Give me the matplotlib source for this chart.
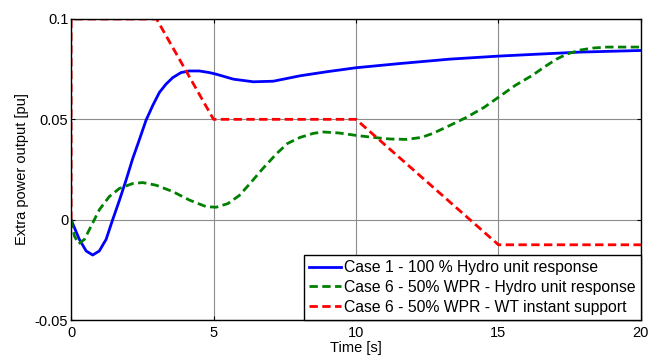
import matplotlib
matplotlib.use("Agg")
import matplotlib.pyplot as plt

plt.rcParams["font.family"] = ["Liberation Sans", "DejaVu Sans"]

# Case 1 - hydro unit response
t_case1 = [0, 0.29, 0.53, 0.76, 0.99, 1.23, 1.46, 1.70, 1.93, 2.16, 2.40,
           2.63, 2.87, 3.10, 3.33, 3.57, 3.86, 4.15, 4.5, 4.85, 5.09, 5.7,
           6.4, 7.1, 8.04, 8.97, 10.0, 11.54, 13.3, 15.0, 17.86, 20.0]
p_case1 = [0, -0.0098, -0.0156, -0.0176, -0.0156, -0.0098, 0, 0.0098,
           0.0197, 0.0303, 0.040, 0.0495, 0.057, 0.0634, 0.0675, 0.0708,
           0.0733, 0.0741, 0.0741, 0.0733, 0.0725, 0.070, 0.0687, 0.069,
           0.0717, 0.0737, 0.0757, 0.0778, 0.080, 0.0815, 0.0835, 0.0843]

# Case 6 - hydro unit response
t_case6 = [0, 0.12, 0.27, 0.47, 0.70, 0.99, 1.34, 1.70, 2.16, 2.51, 2.98,
           3.57, 4.15, 4.74, 5.09, 5.5, 5.9, 6.28, 6.7, 7.22, 7.6, 8.04, 8.5,
           8.85, 9.4, 10.0, 10.6, 11.2, 11.78, 12.3, 12.7, 13.3, 13.88, 14.5,
           15.05, 15.6, 16.2, 16.6, 17.04, 17.4, 17.86, 18.3, 18.8, 20.0]
p_case6 = [0, -0.0082, -0.012, -0.0098, -0.0033, 0.0049, 0.0115, 0.0156,
           0.018, 0.0185, 0.0172, 0.014, 0.0098, 0.0065, 0.0062, 0.008, 0.012,
           0.018, 0.025, 0.033, 0.038, 0.041, 0.043, 0.0437, 0.0432, 0.042,
           0.041, 0.0402, 0.040, 0.041, 0.043, 0.047, 0.051, 0.056, 0.0615,
           0.067, 0.072, 0.076, 0.080, 0.0825, 0.0845, 0.0855, 0.086, 0.086]

# Case 6 - WT instant support
t_wt = [0, 0, 3, 5, 10, 15, 20]
p_wt = [0, 0.1, 0.1, 0.05, 0.05, -0.0125, -0.0125]

fig = plt.figure(figsize=(6.52, 3.58), dpi=100)
ax = fig.add_axes([0.109, 0.106, 0.874, 0.841])

ax.plot(t_case1, p_case1, "-", color="blue", lw=2.0,
        label="Case 1 - 100 % Hydro unit response")
ax.plot(t_case6, p_case6, "--", color="green", lw=2.0, dashes=(3, 1.6),
        label="Case 6 - 50% WPR - Hydro unit response")
ax.plot(t_wt, p_wt, "--", color="red", lw=2.0, dashes=(3, 1.6),
        label="Case 6 - 50% WPR - WT instant support")

ax.set_xlim(0, 20)
ax.set_ylim(-0.05, 0.1)
ax.set_xticks([0, 5, 10, 15, 20])
ax.set_yticks([-0.05, 0, 0.05, 0.1])
ax.set_yticklabels(["-0.05", "0", "0.05", "0.1"])
ax.tick_params(direction="in", top=True, right=True, labelsize=10.5,
               length=3, pad=2)
ax.tick_params(axis="x", pad=4)
ax.grid(True, color="0.55", lw=0.8)
ax.set_axisbelow(True)
for s in ax.spines.values():
    s.set_linewidth(1.0)

ax.set_xlabel("Time [s]", fontsize=10.5, labelpad=1)
ax.set_ylabel("Extra power output [pu]", fontsize=10.5, labelpad=4)

leg = ax.legend(loc="lower right", fontsize=11.3, fancybox=False,
                framealpha=1, edgecolor="black", borderaxespad=0,
                handlelength=2.0, handletextpad=0.2, borderpad=0.35,
                labelspacing=0.3)
leg.get_frame().set_linewidth(1.0)

fig.savefig("out.png", dpi=100)
